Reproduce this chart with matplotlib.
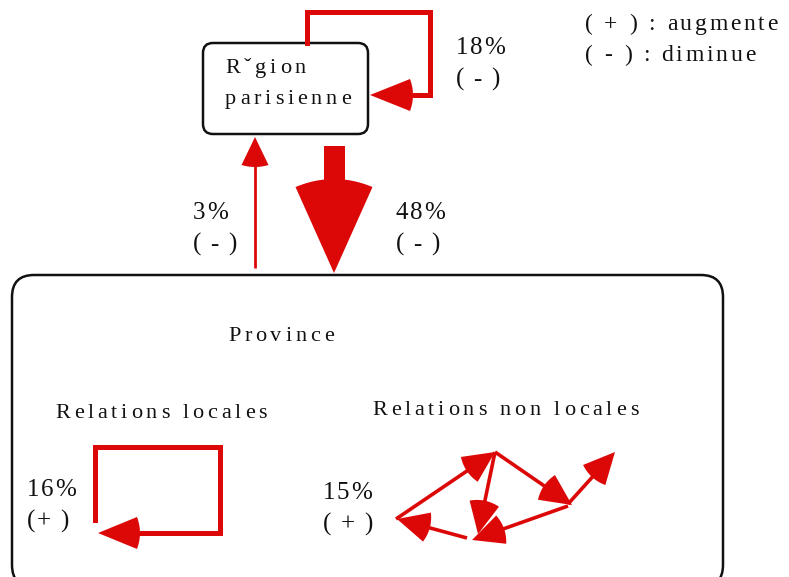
import numpy as np
import matplotlib
matplotlib.use('Agg')
import matplotlib.pyplot as plt
import matplotlib.font_manager as fm
from matplotlib.ft2font import FT2Font
from matplotlib.patches import Polygon, FancyBboxPatch, Rectangle

# texts of the diagram
region_label = ['R\u02c7gion', 'parisienne']
province_label = 'Province'
group_labels = ['Relations locales', 'Relations non locales']
legend_lines = ['( + ) : augmente', '( - ) : diminue']

# flows: share and trend
flow_names = ['paris_paris', 'province_paris', 'paris_province', 'local', 'non_local']
flow_pct = ['18%', '3%', '48%', '16%', '15%']
flow_sign = ['( - )', '( - )', '( - )', '(+ )', '( + )']

RED = '#dc0808'
FAMILY = ['Liberation Serif', 'DejaVu Serif']

fig = plt.figure(figsize=(7.89, 5.77), dpi=100)
ax = fig.add_axes([0, 0, 1, 1])
ax.set_xlim(0, 789)
ax.set_ylim(577, 0)
ax.axis('off')

# font used to measure advances for letter spacing
prop = fm.FontProperties(family=FAMILY)
ftfont = FT2Font(fm.findfont(prop))


def spaced(x, y, s, size=16, track=3.8):
    """Draw text char by char with extra tracking (px)."""
    ftfont.set_size(size, 100)
    for c in s:
        ax.text(x, y, c, fontsize=size, family=FAMILY, ha='left', va='baseline', color='#111111')
        g = ftfont.load_char(ord(c))
        x += g.linearHoriAdvance / 65536 + track


def head(tip, tail, L, W, bulge=3):
    """Arrow head: tip, base of half width W at distance L, slightly bowed base."""
    tip = np.array(tip, float)
    tail = np.array(tail, float)
    d = (tail - tip) / np.linalg.norm(tail - tip)
    n = np.array([-d[1], d[0]])
    t = np.linspace(1, -1, 15)
    base = tip + np.outer(L + bulge * (1 - t ** 2), d) + np.outer(W * t, n)
    pts = np.vstack([tip, base])
    ax.add_patch(Polygon(pts, closed=True, color=RED, lw=0, zorder=3))


def arrow(tail, tip, lw=2.5, L=30, W=14, bulge=3):
    tail = np.array(tail, float)
    tip = np.array(tip, float)
    d = (tail - tip) / np.linalg.norm(tail - tip)
    end = tip + d * L * 0.8
    ax.plot([tail[0], end[0]], [tail[1], end[1]], color=RED, lw=lw, solid_capstyle='butt', zorder=2)
    head(tip, tail, L, W, bulge)


# boxes
ax.add_patch(FancyBboxPatch((203, 43), 165, 91, boxstyle='round,pad=0,rounding_size=10',
                            fc='white', ec='#111111', lw=1.8, zorder=1))
ax.add_patch(FancyBboxPatch((12, 275), 711, 312, boxstyle='round,pad=0,rounding_size=22',
                            fc='white', ec='#111111', lw=1.8, zorder=1))

# loop on Paris region
ax.plot([307, 307, 430, 430, 400], [43, 12, 12, 95, 95], color=RED, lw=3.6,
        solid_joinstyle='miter', zorder=2)
head((370, 95), (430, 95), 40, 16, 3)

# Province -> Paris (thin)
arrow((255, 268), (255, 137), lw=2.0, L=28, W=13.5, bulge=2)

# Paris -> Province (big)
ax.add_patch(Rectangle((324, 146), 21, 40, color=RED, lw=0, zorder=2))
head((334, 273), (334, 146), 86, 38.5, 8)

# local loop
ax.plot([95, 95, 220, 220, 130], [520, 447, 447, 533, 533], color=RED, lw=3.6,
        solid_joinstyle='miter', zorder=2)
head((98, 533), (220, 533), 39, 16, 3)

# non local network
net = [((396, 519), (495, 452)),
       ((495, 452), (478, 534)),
       ((495, 452), (572, 505)),
       ((568, 504), (615, 452)),
       ((568, 506), (472, 540)),
       ((467, 538), (397, 519))]
for tail, tip in net:
    arrow(tail, tip, lw=2.6, L=31, W=15, bulge=3)

# labels
spaced(225, 73, region_label[0])
spaced(225, 104, region_label[1])
spaced(228, 341, province_label)
spaced(55, 418, group_labels[0])
spaced(372, 415, group_labels[1])

pct_pos = {'paris_paris': (456, 54), 'province_paris': (193, 219),
           'paris_province': (396, 219), 'local': (27, 496), 'non_local': (323, 499)}
for name, p, s in zip(flow_names, flow_pct, flow_sign):
    x, y = pct_pos[name]
    spaced(x, y, p, size=18, track=1.5)
    spaced(x, y + 32, s, size=18, track=1.5)

spaced(585, 30, legend_lines[0], size=17, track=2.8)
spaced(585, 61, legend_lines[1], size=17, track=2.8)

fig.savefig('out.png', dpi=100)
